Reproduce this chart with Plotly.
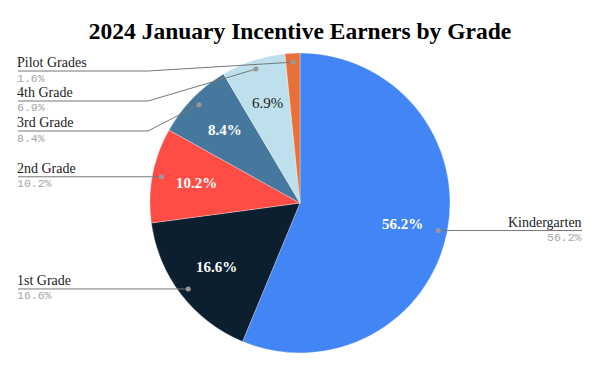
import math
import plotly.graph_objects as go

grades = ["Kindergarten", "1st Grade", "2nd Grade", "3rd Grade", "4th Grade", "Pilot Grades"]
shares = [56.2, 16.6, 10.2, 8.4, 6.9, 1.6]
colors = ["#4285F4", "#0B1F2F", "#FF4C45", "#46779D", "#BEE0EC", "#E8713A"]
inside_colors = ["#FFFFFF", "#FFFFFF", "#FFFFFF", "#FFFFFF", "#222222", "#FFFFFF"]
title = "2024 January Incentive Earners by Grade"

W, H = 600, 371
CX, CY, R = 300, 203, 150

def px(x):
    return x / W

def py(y):
    return 1 - y / H

fig = go.Figure(go.Pie(
    labels=grades, values=shares, sort=False, direction="clockwise", rotation=0,
    marker=dict(colors=colors, line=dict(color="rgba(255,255,255,0.6)", width=0.5)),
    textinfo="none", hoverinfo="label+value", showlegend=False,
    domain=dict(x=[px(CX - R), px(CX + R)], y=[py(CY + R), py(CY - R)]),
))

total = sum(shares)
shapes, annotations = [], []
left_items = []
right_items = []
cum = 0.0
for name, v, tc in zip(grades, shares, inside_colors):
    frac = (cum + v / 2) / total
    cum += v
    th = 2 * math.pi * frac
    s, c = math.sin(th), math.cos(th)
    # inside label
    if v >= 2:
        rt = 0.7 * R
        annotations.append(dict(
            x=px(CX + rt * s), y=py(CY - rt * c), xref="paper", yref="paper",
            text=f"<b>{v:.1f}%</b>" if tc == "#FFFFFF" else f"{v:.1f}%",
            showarrow=False, font=dict(family="Liberation Serif", size=15, color=tc),
            xanchor="center", yanchor="middle"))
    rd = 0.94 * R
    dot = (CX + rd * s, CY - rd * c)
    item = dict(name=name, v=v, dot=dot)
    (left_items if s < 0 else right_items).append(item)

# resolve label vertical positions on the left
left_items.sort(key=lambda d: d["dot"][1])
prev = None
for it in left_items:
    y = max(it["dot"][1], 71)
    if prev is not None:
        y = max(y, prev + 30)
    it["ly"] = y
    prev = y
for it in right_items:
    it["ly"] = it["dot"][1]

LINE = dict(color="#777777", width=1)
BREAK_X = 148
LABEL_FONT = dict(family="Liberation Serif", size=14, color="#222222")
VALUE_FONT = dict(family="Liberation Mono", size=11.5, color="#A6A6A6")
LABEL_DY, VALUE_DY = -8.5, 7
for it in left_items:
    dx, dy = it["dot"]
    ly = it["ly"]
    bx = min(BREAK_X, dx)
    shapes.append(dict(type="line", xref="paper", yref="paper",
                       x0=px(18), y0=py(ly), x1=px(bx), y1=py(ly), line=LINE))
    shapes.append(dict(type="line", xref="paper", yref="paper",
                       x0=px(bx), y0=py(ly), x1=px(dx), y1=py(dy), line=LINE))
    annotations.append(dict(x=px(16), y=py(ly + LABEL_DY), xref="paper", yref="paper",
                            text=it["name"], showarrow=False, xanchor="left", yanchor="middle",
                            font=LABEL_FONT, borderpad=0))
    annotations.append(dict(x=px(16), y=py(ly + VALUE_DY), xref="paper", yref="paper",
                            text=f"{it['v']:.1f}%", showarrow=False, xanchor="left", yanchor="middle",
                            font=VALUE_FONT, borderpad=0))

for it in right_items:
    dx, dy = it["dot"]
    ly = it["ly"]
    shapes.append(dict(type="line", xref="paper", yref="paper",
                       x0=px(dx), y0=py(ly), x1=px(582), y1=py(ly), line=LINE))
    annotations.append(dict(x=px(583), y=py(ly + LABEL_DY), xref="paper", yref="paper",
                            text=it["name"], showarrow=False, xanchor="right", yanchor="middle",
                            font=LABEL_FONT, borderpad=0))
    annotations.append(dict(x=px(583), y=py(ly + VALUE_DY), xref="paper", yref="paper",
                            text=f"{it['v']:.1f}%", showarrow=False, xanchor="right", yanchor="middle",
                            font=VALUE_FONT, borderpad=0))

for it in left_items + right_items:
    dx, dy = it["dot"]
    r = 2.5
    shapes.append(dict(type="circle", xref="paper", yref="paper",
                       x0=px(dx - r), x1=px(dx + r), y0=py(dy + r), y1=py(dy - r),
                       fillcolor="#999999", line=dict(width=0)))

fig.update_layout(
    width=W, height=H,
    margin=dict(l=0, r=0, t=0, b=0),
    paper_bgcolor="white", plot_bgcolor="white",
    title=dict(text=f"<b>{title}</b>", x=0.5, xanchor="center",
               y=1 - 31 / H, yanchor="middle",
               font=dict(family="Liberation Serif", size=23.5, color="#000000")),
    shapes=shapes, annotations=annotations,
)

fig.write_html("out.html", config={"displayModeBar": False},
               post_script="document.body.style.margin='0';")
